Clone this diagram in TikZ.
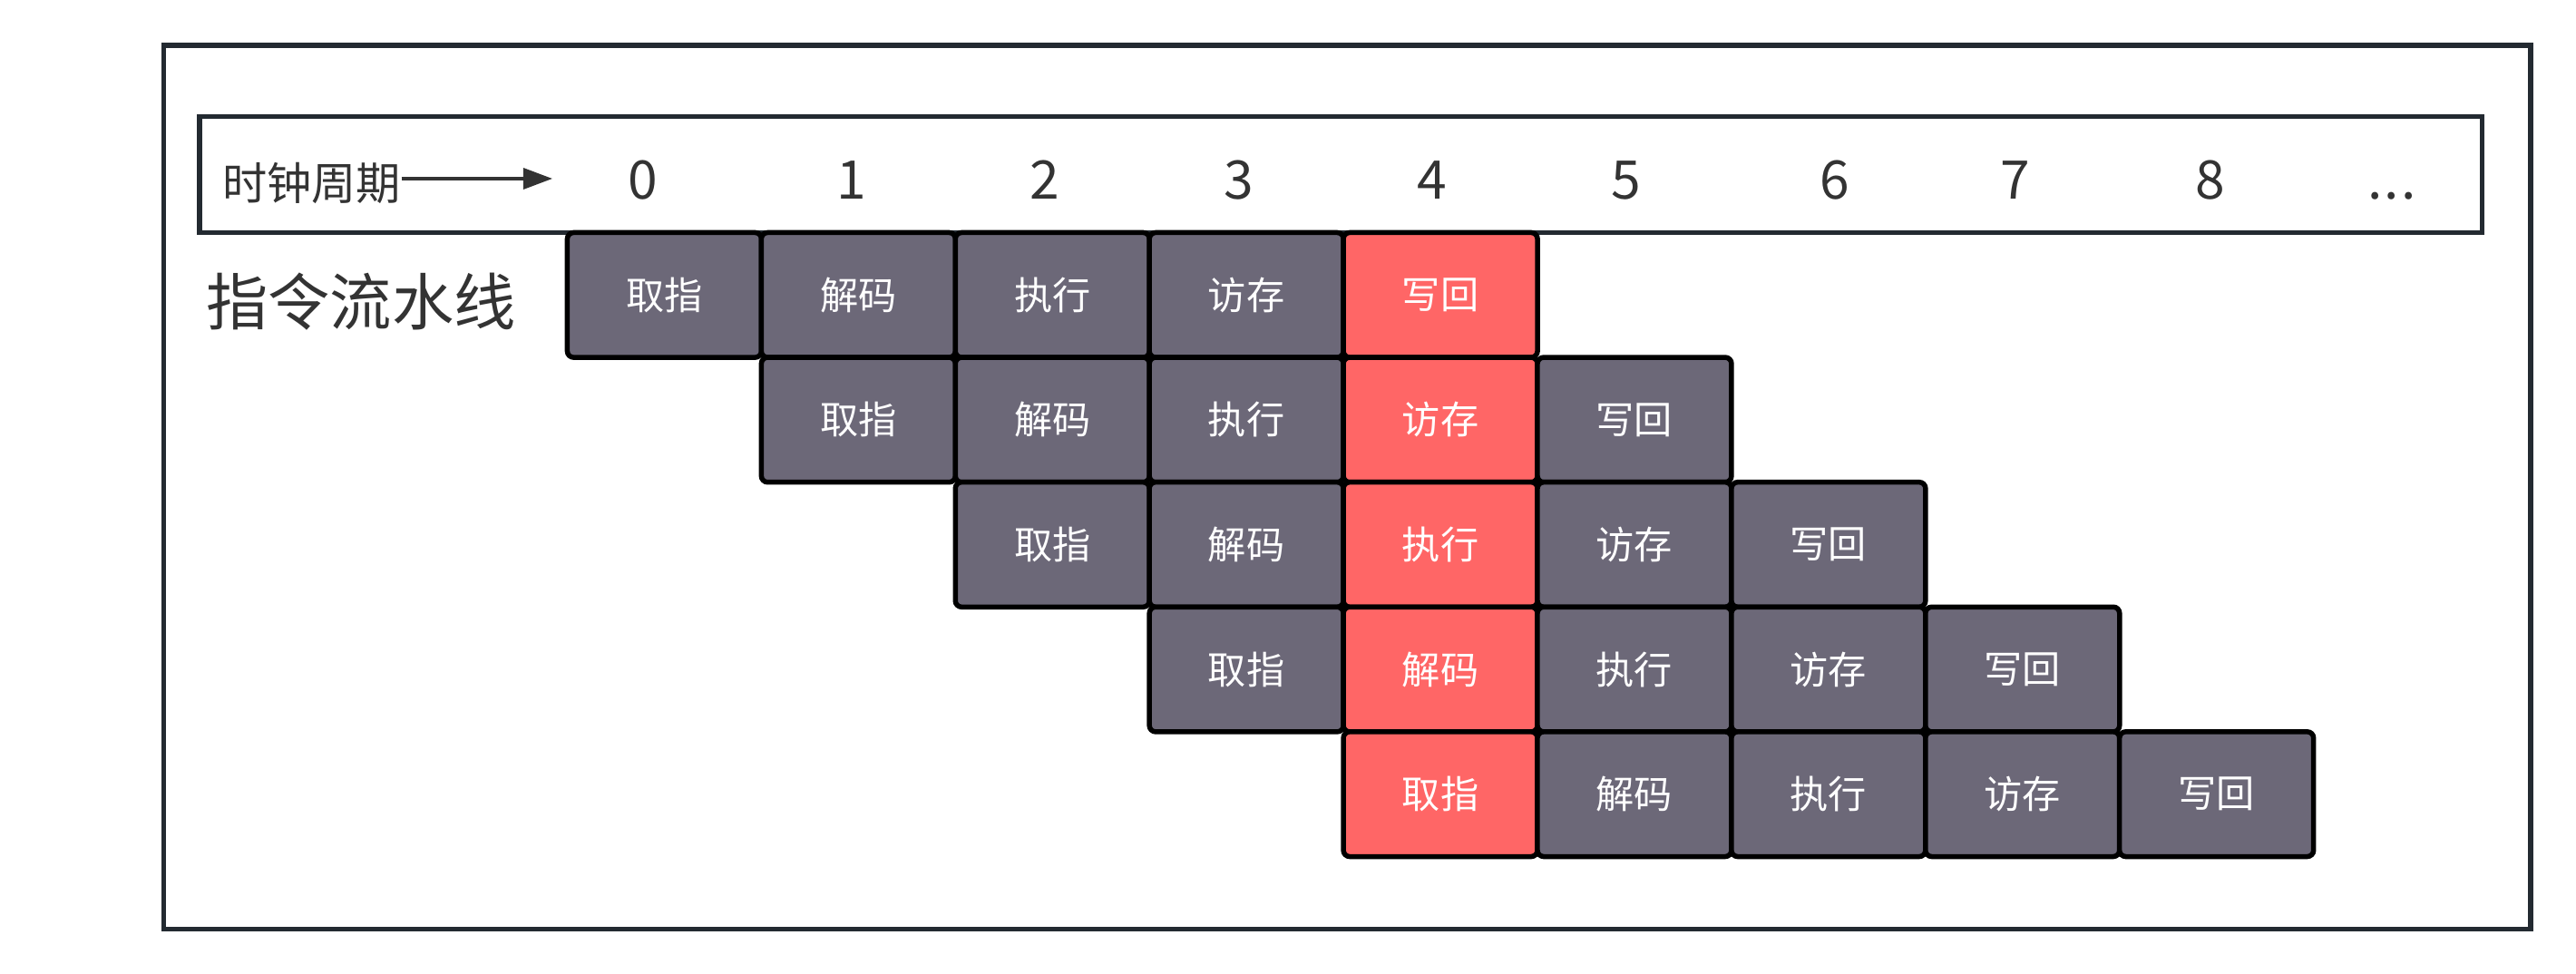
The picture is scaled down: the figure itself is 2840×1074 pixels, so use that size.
\documentclass[tikz,border=0pt]{standalone}
\usepackage{fontspec}
\setmainfont{Noto Sans CJK SC}
\usetikzlibrary{arrows.meta}
\definecolor{framec}{HTML}{232A31}
\definecolor{stagegray}{HTML}{6C6878}
\definecolor{stagered}{HTML}{FF6666}
\definecolor{txtc}{HTML}{333333}
\newcommand{\cycdots}{.\kern0.04em.\kern0.04em.}
\tikzset{
	frame/.style={draw=framec, line width=0.055cm},
	stage/.style={draw=black, line width=0.055cm, rounded corners=0.07cm, minimum width=2.139cm, minimum height=1.376cm, inner sep=0pt, text=white, font=\fontsize{12}{14}\selectfont},
	cyclenum/.style={anchor=base, inner sep=0pt, text=txtc, font=\fontsize{16.7}{20}\selectfont},
}

\begin{document}
\begin{tikzpicture}[x=0.01cm,y=-0.01cm]
	\useasboundingbox (0,0) rectangle (2840,1074);
	\draw[frame] (180.5,50) rectangle (2790,1024.5);
	\draw[frame] (220,128.5) rectangle (2736.5,256.5);

	% clock cycles
	\node[inner sep=0pt, text=txtc, font=\fontsize{14}{16}\selectfont] (clk) at (343.5,202) {时钟周期};
	\coordinate (clkend) at (609,197);
	\draw[-{Triangle[length=0.32cm,width=0.23cm]}, line width=0.033cm, txtc] (clk.east |- clkend) -- (clkend);
	\foreach \n/\xpos [count=\i] in {0/709,1/939,2/1152,3/1366,4/1579,5/1793,6/2023,7/2222,8/2437,\cycdots/2637}{
		\node[cyclenum] (cyc\i) at (\xpos,220) {\n};
	}

	\node[inner sep=0pt, text=txtc, font=\fontsize{19.4}{22}\selectfont] (pipe) at (398,333) {指令流水线};

	% pipeline stages
	\foreach \r in {0,...,4}{
		\foreach \s [count=\k from 0] in {取指,解码,执行,访存,写回}{
			\pgfmathtruncatemacro{\c}{\r+\k}
			\ifnum\c=4 \def\fillc{stagered}\else\def\fillc{stagegray}\fi
			\node[stage, fill=\fillc] (st-\r-\c) at ({625.5+(\c+0.5)*213.9},{256.5+(\r+0.5)*137.6}) {\s};
		}
	}
\end{tikzpicture}
\end{document}
